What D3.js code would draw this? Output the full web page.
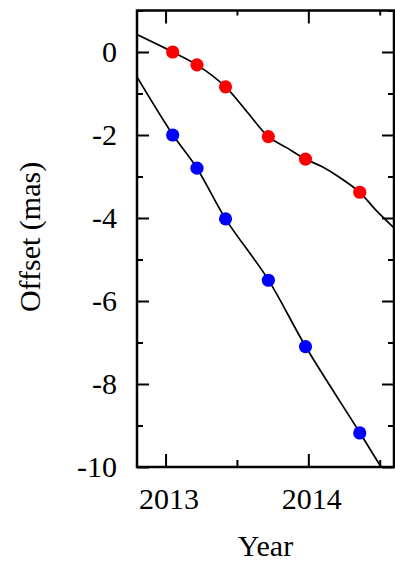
<!DOCTYPE html>
<html>
<head>
<meta charset="utf-8">
<script src="https://cdn.jsdelivr.net/npm/d3@7/dist/d3.min.js"></script>
<style>
  html, body { margin: 0; padding: 0; background: #fff; }
  svg { display: block; }
  text { font-family: "Liberation Serif", "Times New Roman", Times, serif; fill: #000; }
</style>
</head>
<body>
<svg id="chart" width="395" height="563"></svg>
<script>
// Observation epochs (decimal year)
const epochs = [2013.05, 2013.22, 2013.42, 2013.72, 2013.98, 2014.36];
// Measured offsets (mas) for the two sources
const redOffsets = [0.0, -0.31, -0.84, -2.04, -2.58, -3.38];
const blueOffsets = [-2.0, -2.8, -4.02, -5.5, -7.1, -9.18];

// Fitted motion tracks: [year, offset]
const redFitYears = [2012.8, 2013.05, 2013.22, 2013.42, 2013.57, 2013.72, 2013.85, 2013.98, 2014.094, 2014.21, 2014.36, 2014.47, 2014.6];
const redFitValues = [0.42, 0.0, -0.31, -0.84, -1.44, -2.04, -2.31, -2.58, -2.76, -3.0, -3.38, -3.8, -4.24];
const blueFitYears = [2012.8, 2013.05, 2013.22, 2013.42, 2013.72, 2013.98, 2014.36, 2014.51, 2014.6];
const blueFitValues = [-0.6, -1.99, -2.8, -4.02, -5.49, -7.09, -9.17, -10.0, -10.47];

// Axis ticks
const yMajorTicks = [0, -2, -4, -6, -8, -10];
const yMinorTicks = [1, -1, -3, -5, -7, -9];
const xMajorTicks = [2013, 2014];
const xMinorTicks = [2013.5, 2014.5];

const svg = d3.select("#chart");
const plotLeft = 137, plotRight = 394, plotTop = 10.5, plotBottom = 467;

const x = d3.scaleLinear().domain([2012.8, 2014.6]).range([plotLeft, plotRight]);
const y = d3.scaleLinear().domain([-10, 1]).range([plotBottom, plotTop]);

svg.append("defs").append("clipPath").attr("id", "plot-clip")
  .append("rect").attr("x", plotLeft).attr("y", plotTop)
  .attr("width", plotRight - plotLeft).attr("height", plotBottom - plotTop);

const fmt = d => String(d);

function styleAxis(g) {
  g.select(".domain").remove();
  g.selectAll(".tick line").attr("stroke", "#000").attr("stroke-width", 2);
  g.selectAll(".tick text").attr("font-size", 30)
    .attr("font-family", '"Liberation Serif", "Times New Roman", Times, serif');
}

// Left axis
svg.append("g").attr("transform", `translate(${plotLeft},0)`)
  .call(d3.axisLeft(y).tickValues(yMajorTicks).tickFormat(fmt).tickSize(-12).tickPadding(20))
  .call(styleAxis);
svg.append("g").attr("transform", `translate(${plotLeft},0)`)
  .call(d3.axisLeft(y).tickValues(yMinorTicks).tickFormat("").tickSize(-6))
  .call(styleAxis);
// Right axis (ticks only)
svg.append("g").attr("transform", `translate(${plotRight},0)`)
  .call(d3.axisRight(y).tickValues(yMajorTicks).tickFormat("").tickSize(-12))
  .call(styleAxis);
svg.append("g").attr("transform", `translate(${plotRight},0)`)
  .call(d3.axisRight(y).tickValues(yMinorTicks).tickFormat("").tickSize(-6))
  .call(styleAxis);
// Bottom axis
svg.append("g").attr("transform", `translate(0,${plotBottom})`)
  .call(d3.axisBottom(x).tickValues(xMajorTicks).tickFormat(fmt).tickSize(-13).tickPadding(21))
  .call(styleAxis)
  .selectAll(".tick text").attr("dx", 3);
svg.append("g").attr("transform", `translate(0,${plotBottom})`)
  .call(d3.axisBottom(x).tickValues(xMinorTicks).tickFormat("").tickSize(-7))
  .call(styleAxis);
// Top axis (ticks only)
svg.append("g").attr("transform", `translate(0,${plotTop})`)
  .call(d3.axisTop(x).tickValues(xMajorTicks).tickFormat("").tickSize(-13))
  .call(styleAxis);
svg.append("g").attr("transform", `translate(0,${plotTop})`)
  .call(d3.axisTop(x).tickValues(xMinorTicks).tickFormat("").tickSize(-5))
  .call(styleAxis);

// Fitted tracks
const line = d3.line().x(d => x(d[0])).y(d => y(d[1])).curve(d3.curveCatmullRom.alpha(0.5));
const plot = svg.append("g").attr("clip-path", "url(#plot-clip)");
[[redFitYears, redFitValues], [blueFitYears, blueFitValues]].forEach(([xs, vs]) => {
  plot.append("path")
    .datum(xs.map((t, i) => [t, vs[i]]))
    .attr("fill", "none").attr("stroke", "#000").attr("stroke-width", 1.7)
    .attr("d", line);
});

// Measured positions
[[redOffsets, "#ff0000"], [blueOffsets, "#0000ff"]].forEach(([vals, color]) => {
  svg.append("g").selectAll("circle")
    .data(epochs.map((t, i) => [t, vals[i]]))
    .join("circle")
    .attr("cx", d => x(d[0])).attr("cy", d => y(d[1]))
    .attr("r", 6.6).attr("fill", color);
});

// Frame
svg.append("rect").attr("x", plotLeft).attr("y", plotTop)
  .attr("width", plotRight - plotLeft).attr("height", plotBottom - plotTop)
  .attr("fill", "none").attr("stroke", "#000").attr("stroke-width", 2.5);

// Axis titles
svg.append("text").attr("x", (plotLeft + plotRight) / 2).attr("y", 556)
  .attr("text-anchor", "middle").attr("font-size", 30).text("Year");
svg.append("text").attr("transform", "translate(40,237) rotate(-90)")
  .attr("text-anchor", "middle").attr("font-size", 30).text("Offset (mas)");
</script>
</body>
</html>
